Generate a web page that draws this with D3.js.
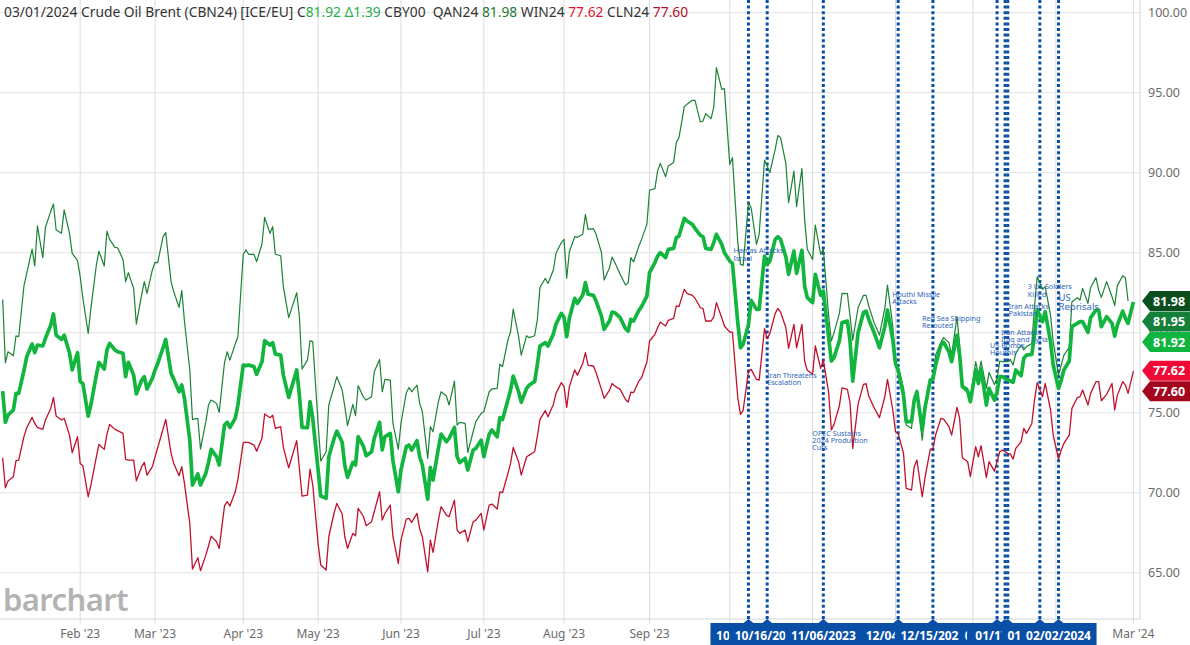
<!DOCTYPE html>
<html>
<head>
<meta charset="utf-8">
<script src="https://cdn.jsdelivr.net/npm/d3@7"></script>
<style>
  html, body { margin: 0; padding: 0; background: #fff; }
  svg { display: block; font-family: "Noto Sans", sans-serif; }
</style>
</head>
<body>
<div id="chart"></div>
<script>
// daily closes (thin green = QAN24, thick green = CBN24, red = CLN24)
const dates = [
  "2023-01-03","2023-01-04","2023-01-05","2023-01-07","2023-01-08","2023-01-09","2023-01-11","2023-01-12","2023-01-14","2023-01-15",
  "2023-01-16","2023-01-18","2023-01-19","2023-01-21","2023-01-22","2023-01-23","2023-01-25","2023-01-26","2023-01-28","2023-01-29",
  "2023-01-31","2023-02-01","2023-02-02","2023-02-04","2023-02-05","2023-02-07","2023-02-08","2023-02-10","2023-02-11","2023-02-12",
  "2023-02-14","2023-02-15","2023-02-17","2023-02-18","2023-02-19","2023-02-21","2023-02-22","2023-02-24","2023-02-25","2023-02-26",
  "2023-02-28","2023-03-01","2023-03-02","2023-03-04","2023-03-05","2023-03-07","2023-03-08","2023-03-10","2023-03-11","2023-03-12",
  "2023-03-14","2023-03-15","2023-03-17","2023-03-18","2023-03-20","2023-03-21","2023-03-22","2023-03-24","2023-03-25","2023-03-27",
  "2023-03-28","2023-03-29","2023-03-31","2023-04-01","2023-04-03","2023-04-04","2023-04-05","2023-04-07","2023-04-08","2023-04-10",
  "2023-04-11","2023-04-13","2023-04-14","2023-04-15","2023-04-17","2023-04-18","2023-04-20","2023-04-23","2023-04-24","2023-04-25",
  "2023-04-27","2023-04-28","2023-04-29","2023-05-01","2023-05-02","2023-05-04","2023-05-05","2023-05-07","2023-05-08","2023-05-10",
  "2023-05-11","2023-05-12","2023-05-14","2023-05-15","2023-05-16","2023-05-18","2023-05-19","2023-05-21","2023-05-22","2023-05-24",
  "2023-05-25","2023-05-26","2023-05-28","2023-05-29","2023-05-31","2023-06-01","2023-06-03","2023-06-04","2023-06-05","2023-06-07",
  "2023-06-08","2023-06-09","2023-06-11","2023-06-12","2023-06-13","2023-06-15","2023-06-16","2023-06-18","2023-06-19","2023-06-21",
  "2023-06-22","2023-06-23","2023-06-25","2023-06-26","2023-06-28","2023-06-29","2023-07-01","2023-07-02","2023-07-04","2023-07-05",
  "2023-07-07","2023-07-08","2023-07-09","2023-07-11","2023-07-12","2023-07-13","2023-07-15","2023-07-16","2023-07-18","2023-07-19",
  "2023-07-21","2023-07-22","2023-07-23","2023-07-25","2023-07-26","2023-07-28","2023-07-29","2023-07-31","2023-08-01","2023-08-02",
  "2023-08-03","2023-08-05","2023-08-06","2023-08-08","2023-08-09","2023-08-10","2023-08-12","2023-08-13","2023-08-15","2023-08-16",
  "2023-08-18","2023-08-19","2023-08-20","2023-08-22","2023-08-24","2023-08-25","2023-08-26","2023-08-27","2023-08-29","2023-08-30",
  "2023-09-01","2023-09-02","2023-09-04","2023-09-05","2023-09-06","2023-09-08","2023-09-09","2023-09-11","2023-09-12","2023-09-13",
  "2023-09-15","2023-09-16","2023-09-18","2023-09-19","2023-09-21","2023-09-22","2023-09-23","2023-09-25","2023-09-26","2023-09-27",
  "2023-09-29","2023-09-30","2023-10-02","2023-10-03","2023-10-05","2023-10-06","2023-10-07","2023-10-09","2023-10-10","2023-10-12",
  "2023-10-13","2023-10-15","2023-10-16","2023-10-17","2023-10-19","2023-10-20","2023-10-21","2023-10-23","2023-10-24","2023-10-26",
  "2023-10-27","2023-10-29","2023-10-30","2023-10-31","2023-11-02","2023-11-03","2023-11-05","2023-11-06","2023-11-08","2023-11-09",
  "2023-11-10","2023-11-12","2023-11-13","2023-11-15","2023-11-16","2023-11-17","2023-11-19","2023-11-21","2023-11-22","2023-11-23",
  "2023-11-25","2023-11-27","2023-11-29","2023-11-30","2023-12-02","2023-12-03","2023-12-04","2023-12-06","2023-12-07","2023-12-09",
  "2023-12-10","2023-12-11","2023-12-13","2023-12-14","2023-12-16","2023-12-17","2023-12-18","2023-12-20","2023-12-21","2023-12-23",
  "2023-12-24","2023-12-26","2023-12-27","2023-12-28","2023-12-30","2023-12-31","2024-01-02","2024-01-03","2024-01-04","2024-01-06",
  "2024-01-07","2024-01-09","2024-01-10","2024-01-11","2024-01-12","2024-01-14","2024-01-15","2024-01-16","2024-01-17","2024-01-19",
  "2024-01-20","2024-01-21","2024-01-23","2024-01-24","2024-01-25","2024-01-27","2024-01-28","2024-01-30","2024-01-31","2024-02-02",
  "2024-02-03","2024-02-04","2024-02-06","2024-02-07","2024-02-09","2024-02-10","2024-02-11","2024-02-13","2024-02-14","2024-02-16",
  "2024-02-17","2024-02-18","2024-02-20","2024-02-22","2024-02-23","2024-02-24","2024-02-26","2024-02-27","2024-02-28","2024-03-01"
];
const qan24 = [
  82.08,78.12,78.81,78.56,79.81,79.75,82.98,83.71,85.23,84.17,
  86.67,84.69,86.58,87.60,88.04,86.42,86.21,87.67,86.21,84.96,
  84.50,83.50,82.15,79.96,81.52,84.17,85.10,84.17,86.35,85.83,
  85.33,85.31,84.58,83.19,83.75,82.77,80.54,82.40,83.19,82.46,
  83.92,84.40,84.38,86.00,86.25,83.19,82.56,81.58,82.63,80.73,
  77.67,74.58,74.65,72.73,74.44,75.48,75.79,75.58,75.02,78.15,
  78.81,78.29,79.29,79.75,84.90,85.17,84.90,84.90,84.44,85.54,
  87.21,86.21,86.63,84.90,84.81,82.88,80.94,82.50,81.00,77.73,
  78.29,79.50,79.44,74.33,71.98,72.56,75.48,76.63,77.25,76.42,
  75.38,74.19,75.52,74.81,76.69,75.96,75.79,76.00,77.56,78.33,
  76.31,77.08,77.04,74.33,72.71,74.33,76.25,76.58,76.31,76.73,
  75.58,75.06,72.15,74.13,73.81,75.69,76.31,76.04,75.48,76.98,
  74.23,74.40,74.33,72.52,73.81,74.44,74.96,75.06,76.31,76.48,
  76.52,78.04,77.88,79.54,80.06,81.48,79.75,78.60,79.81,79.69,
  79.81,80.79,82.83,83.40,83.08,83.92,84.96,85.63,85.83,83.40,
  85.06,86.00,85.96,86.15,87.40,86.46,86.50,86.15,85.00,83.29,
  84.06,84.73,84.38,83.65,82.98,83.13,84.69,84.42,85.42,85.83,
  86.77,88.90,89.00,90.10,90.58,89.75,90.42,90.63,91.88,92.19,
  94.13,94.27,94.52,94.52,93.17,93.23,93.69,93.38,94.06,96.56,
  95.21,95.25,90.52,90.94,85.63,84.27,84.21,88.13,87.81,85.52,
  86.15,90.79,90.42,90.00,91.46,92.33,92.19,90.56,88.13,90.10,
  87.88,90.25,87.08,85.21,84.58,86.73,84.90,85.21,81.04,79.48,
  80.00,81.19,82.46,82.44,81.04,79.54,81.56,82.33,82.33,81.67,
  80.63,79.85,81.52,82.98,80.38,78.19,77.88,76.52,74.23,74.02,
  75.73,76.42,73.29,75.06,77.04,77.10,78.60,79.40,79.69,79.38,
  78.60,81.00,79.23,76.73,76.52,75.79,78.19,77.35,78.23,76.52,
  77.52,76.77,77.15,78.23,78.19,78.19,78.33,77.98,78.71,79.23,
  78.92,79.13,79.33,81.63,83.50,82.71,82.88,81.10,79.44,77.35,
  77.98,78.60,79.08,81.94,82.19,82.04,82.77,81.83,82.83,83.44,
  82.67,82.21,83.19,82.25,81.69,82.94,83.56,83.44,81.98,null
];
const cbn24 = [
  76.35,74.40,74.85,75.17,76.21,76.21,77.67,78.50,79.29,78.75,
  79.23,79.17,79.65,80.48,81.17,79.85,79.58,79.85,78.75,77.67,
  78.75,76.94,76.83,74.79,75.48,77.31,78.15,77.73,78.92,79.33,
  78.92,78.81,78.71,77.25,78.15,77.35,76.17,77.04,77.25,76.48,
  77.15,77.67,78.08,79.06,79.58,77.46,77.10,76.31,76.73,75.90,
  73.29,70.48,71.17,70.48,71.21,71.90,72.71,72.25,71.73,74.23,
  74.40,74.08,74.65,75.48,77.98,77.94,77.98,77.88,77.40,78.19,
  79.50,79.23,79.38,78.67,78.60,77.35,75.96,77.67,76.10,74.08,
  74.06,75.69,74.65,71.42,69.79,69.65,72.25,73.40,73.85,73.15,
  71.69,70.96,71.90,71.73,73.50,72.88,72.31,72.56,73.40,74.40,
  72.67,73.50,73.71,72.00,70.06,71.42,72.88,72.98,72.67,73.25,
  72.25,71.73,69.60,71.58,70.79,72.77,73.67,73.19,73.40,74.08,
  72.25,71.88,72.15,71.42,72.67,72.77,73.29,72.25,73.65,73.92,
  73.50,74.69,74.58,75.79,76.42,77.29,76.31,75.65,76.52,76.73,
  76.94,77.98,79.17,79.38,79.17,79.92,80.54,81.21,80.96,79.75,
  80.90,82.15,81.83,82.35,83.13,82.40,82.33,81.98,81.04,80.21,
  80.73,81.29,81.25,80.94,80.25,80.10,80.83,80.73,81.40,81.63,
  82.29,83.75,84.38,84.79,85.00,84.69,85.21,85.27,85.94,86.04,
  87.15,86.98,86.77,86.52,86.08,86.00,85.27,85.21,85.63,86.15,
  85.52,85.00,84.48,84.33,80.63,79.06,79.27,80.52,82.02,81.46,
  81.46,84.79,84.27,84.48,85.83,86.00,85.83,84.73,83.65,85.10,
  83.71,85.15,82.92,82.19,81.88,83.65,82.33,82.60,79.69,78.23,
  78.44,79.48,80.63,80.73,79.48,76.98,80.00,81.25,81.35,80.83,
  80.00,79.06,80.38,81.42,79.54,78.08,77.67,76.10,74.44,74.44,
  75.79,76.31,73.92,75.27,77.04,77.10,77.98,79.23,79.40,78.81,
  78.19,79.85,78.60,76.63,76.35,75.69,77.67,76.83,77.77,75.48,
  76.52,75.79,76.31,77.25,77.25,77.04,76.98,76.90,77.67,77.31,
  78.40,78.60,78.65,79.85,81.42,80.69,81.31,79.44,77.98,76.52,
  77.04,77.67,78.23,80.38,80.58,80.69,80.69,80.02,80.94,81.42,
  81.42,80.38,81.00,80.58,79.79,80.48,81.35,80.90,80.58,81.92
];
const cln24 = [
  72.19,70.31,70.73,71.00,72.00,72.04,73.54,74.06,74.71,74.33,
  74.08,73.96,74.54,75.27,75.96,74.79,74.54,74.65,73.60,72.50,
  73.50,71.83,71.69,69.75,70.48,72.19,73.02,72.71,73.65,74.27,
  73.96,73.88,73.71,72.08,72.04,72.04,70.75,71.63,71.90,71.10,
  71.63,72.25,72.81,73.98,74.58,72.46,71.83,71.06,71.63,70.58,
  68.08,65.23,65.94,65.13,66.10,66.67,67.29,66.94,66.52,69.19,
  69.44,69.17,70.06,70.83,73.15,73.15,73.15,72.98,72.60,73.40,
  74.92,74.69,74.85,74.02,74.13,72.83,71.56,73.25,71.52,69.79,
  69.85,71.48,70.48,66.83,65.48,65.17,67.25,68.75,69.33,68.67,
  67.25,66.52,67.46,67.31,69.02,68.50,67.94,68.19,68.81,70.06,
  68.29,68.71,69.23,67.25,65.58,67.04,68.35,68.40,68.15,68.71,
  67.73,67.25,65.06,67.04,66.27,68.29,69.13,68.60,68.50,69.54,
  67.67,67.46,67.67,66.94,68.19,68.29,68.71,67.67,69.23,69.29,
  68.98,70.06,70.00,71.21,71.83,72.83,71.94,71.10,72.25,72.35,
  72.56,73.50,74.58,75.13,74.75,75.52,76.21,76.88,76.63,75.33,
  76.63,77.67,77.35,78.08,78.75,77.96,77.92,77.50,76.46,75.90,
  76.40,76.83,76.67,76.46,75.83,75.67,76.29,76.25,76.98,77.19,
  78.17,79.48,79.90,80.31,80.67,80.42,80.77,80.90,81.67,81.63,
  82.71,82.46,82.33,82.15,81.56,81.50,80.73,80.73,80.98,81.88,
  80.94,80.42,80.04,80.04,75.94,74.90,75.15,77.60,77.71,77.08,
  77.04,80.25,79.63,79.94,81.21,81.52,81.29,80.31,79.02,80.52,
  79.06,80.52,78.23,77.65,77.40,79.17,77.77,78.29,76.25,73.92,
  74.27,75.42,76.56,76.46,75.63,72.77,75.52,76.77,76.81,76.04,
  75.31,74.69,76.00,77.08,75.17,73.81,73.71,72.46,70.27,70.17,
  71.63,72.04,69.75,70.90,72.71,72.77,73.60,74.65,74.60,74.13,
  73.60,75.33,74.65,72.19,71.94,71.00,72.88,72.25,72.94,70.94,
  71.94,71.35,71.94,72.56,72.67,72.46,72.42,72.10,72.77,73.19,
  74.02,73.71,74.33,75.79,76.88,76.00,76.83,75.17,73.60,72.10,
  72.67,73.08,73.60,75.27,75.94,76.00,76.42,75.48,76.21,76.94,
  76.94,75.75,76.15,76.83,75.17,76.10,76.94,76.73,76.21,77.60
];

// last quotes shown in the header and in the right-hand tags
const quoteSymbols = ["QAN24", "CBY00", "CBN24", "WIN24", "CLN24"];
const quoteValues = [81.98, 81.95, 81.92, 77.62, 77.60];
const quoteColors = ["#0c4f1e", "#15803a", "#10b540", "#ee0a34", "#a4061d"];

// event flags (date of the line, flag text, note text)
const eventDates = ["2023-10-09","2023-10-16","2023-11-06","2023-12-04","2023-12-17",
                    "2024-01-10","2024-01-13","2024-01-14","2024-01-26","2024-02-02"];
const eventFlags = ["10/09/2023","10/16/2023","11/06/2023","12/04/2023","12/15/2023",
                    "01/11/2024","01/16/2024","01/17/2024","01/29/2024","02/02/2024"];
const eventNotes = [
  ["Hamas Attacks", "Israel"],
  ["Iran Threatens", "Escalation"],
  ["OPEC Sustains", "2024 Production", "Cuts"],
  ["Houthi Missile", "Attacks"],
  ["Red Sea Shipping", "Rerouted"],
  ["US Bombs", "Houthis"],
  ["Iran Attacks", "Iraq and Syria"],
  ["Iran Attacks", "Pakistan"],
  ["3 US Soldiers", "Killed"],
  ["US", "Reprisals"]
];
// where each note sits: pixel shift from its line, price level of first line
const noteLayout = [[-15, 84.95], [0, 77.17], [-11, 73.54], [-6, 82.23], [-11, 80.73],
                    [-7, 79.04], [-4, 79.86], [1, 81.48], [-12, 82.70], [0, 81.95]];

const monthTicks = ["2023-02-01","2023-03-01","2023-04-03","2023-05-01","2023-06-01","2023-07-02",
                    "2023-08-01","2023-09-02","2023-10-02","2023-11-02","2023-12-03","2024-01-01",
                    "2024-02-01","2024-03-01"];
const priceTicks = [65, 70, 75, 80, 85, 90, 95, 100];

const width = 1190;
const height = 645;
const plotRight = 1140;
const plotBottom = 619;

const parse = d3.timeParse("%Y-%m-%d");
const days = dates.map(parse);

let x = d3.scaleTime()
    .domain([parse("2023-01-02"), parse("2024-03-01")])
    .range([0, 1133.4]);
let y = d3.scaleLinear()
    .domain([62.11, 100.79])
    .range([plotBottom, 0]);

let svg = d3.select("#chart").append("svg")
    .attr("width", width)
    .attr("height", height);

svg.append("rect").attr("width", width).attr("height", height).attr("fill", "#fff");

svg.append("defs").append("clipPath").attr("id", "plot")
    .append("rect").attr("width", plotRight).attr("height", plotBottom);

// grid
let grid = svg.append("g");
grid.selectAll("line.h").data(priceTicks).enter().append("line")
    .attr("x1", 0).attr("x2", plotRight)
    .attr("y1", d => y(d)).attr("y2", d => y(d))
    .attr("stroke", "#e3e3e3");
grid.selectAll("line.v").data(monthTicks.map(parse)).enter().append("line")
    .attr("x1", d => x(d)).attr("x2", d => x(d))
    .attr("y1", 0).attr("y2", plotBottom + 5)
    .attr("stroke", "#dcdcdc");
grid.append("line").attr("x1", plotRight).attr("x2", plotRight)
    .attr("y1", 0).attr("y2", plotBottom).attr("stroke", "#d6d6d6");
grid.append("line").attr("x1", 0).attr("x2", plotRight)
    .attr("y1", plotBottom).attr("y2", plotBottom).attr("stroke", "#d6d6d6");

// watermark
svg.append("text")
    .attr("x", 3).attr("y", 611)
    .attr("font-size", 31).attr("font-weight", 600)
    .attr("letter-spacing", -0.6)
    .attr("fill", "#b3b3b3")
    .text("barchart");

// right price axis
svg.append("g").selectAll("text").data(priceTicks).enter().append("text")
    .attr("x", 1148).attr("y", d => y(d) + 4.5)
    .attr("font-size", 12.5).attr("fill", "#6b6b6b")
    .text(d => d3.format(".2f")(d));

// event lines (dotted)
let events = eventDates.map((d, i) => ({date: parse(d), flag: eventFlags[i], note: eventNotes[i], lay: noteLayout[i]}));
svg.append("g").selectAll("line").data(events).enter().append("line")
    .attr("x1", d => x(d.date)).attr("x2", d => x(d.date))
    .attr("y1", 0).attr("y2", plotBottom + 1)
    .attr("stroke", "#0a4fa6").attr("stroke-width", 3)
    .attr("stroke-dasharray", "3,2.6");

// price lines
let lines = svg.append("g").attr("clip-path", "url(#plot)");
function drawSeries(values, color, w) {
    let line = d3.line()
        .defined((d, i) => values[i] != null)
        .x((d, i) => x(days[i]))
        .y((d, i) => y(values[i]));
    lines.append("path")
        .datum(values)
        .attr("d", line)
        .attr("fill", "none")
        .attr("stroke", color)
        .attr("stroke-width", w)
        .attr("stroke-linejoin", "round");
}
drawSeries(cln24, "#c0112c", 1.3);
drawSeries(qan24, "#1b8236", 1.2);
drawSeries(cbn24, "#12b53e", 3.7);

// notes
let notes = svg.append("g").attr("fill", "#2f66b8");
events.forEach(ev => {
    let big = ev.note[0] === "US";
    let fs = big ? 9.5 : 7.2;
    let lh = big ? 8.5 : 7.2;
    let t = notes.append("text")
        .attr("x", x(ev.date) + ev.lay[0])
        .attr("y", y(ev.lay[1]))
        .attr("font-size", fs);
    ev.note.forEach((s, k) => {
        t.append("tspan").attr("x", x(ev.date) + ev.lay[0]).attr("dy", k ? lh : 0).text(s);
    });
});

// month labels
svg.append("g").selectAll("text").data(monthTicks.map(parse)).enter().append("text")
    .attr("x", d => x(d)).attr("y", 638)
    .attr("text-anchor", "middle")
    .attr("font-size", 12).attr("fill", "#6b6b6b")
    .text(d3.timeFormat("%b '%y"));

// flags on the time axis, later ones on top
let flags = svg.append("g");
events.forEach(ev => {
    let cx = x(ev.date);
    flags.append("path")
        .attr("d", `M${cx - 5.5},623.5 L${cx},619 L${cx + 5.5},623.5 Z`)
        .attr("fill", "#0a4fa6");
    flags.append("rect")
        .attr("x", cx - 38).attr("y", 623)
        .attr("width", 76).attr("height", 22)
        .attr("fill", "#0a4fa6");
    flags.append("text")
        .attr("x", cx).attr("y", 639.5)
        .attr("text-anchor", "middle")
        .attr("font-size", 12).attr("font-weight", 700)
        .attr("fill", "#fff")
        .text(ev.flag);
});

// last value tags, stacked so they don't overlap
let tagY = [];
quoteValues.forEach((v, i) => {
    let cy = y(v);
    if (i > 0 && cy < tagY[i - 1] + 20.5) cy = tagY[i - 1] + 20.5;
    tagY.push(cy);
});
let tags = svg.append("g");
quoteValues.forEach((v, i) => {
    let cy = tagY[i];
    tags.append("path")
        .attr("d", `M1142,${cy} L1150,${cy - 10} L1190,${cy - 10} L1190,${cy + 10} L1150,${cy + 10} Z`)
        .attr("fill", quoteColors[i]);
    tags.append("text")
        .attr("x", 1153).attr("y", cy + 4.5)
        .attr("font-size", 12.5).attr("font-weight", 700)
        .attr("fill", "#fff")
        .text(d3.format(".2f")(v));
});

// header
let head = svg.append("text")
    .attr("x", 4).attr("y", 17)
    .attr("font-size", 13.8).attr("fill", "#333")
    .attr("xml:space", "preserve");
head.append("tspan").text("03/01/2024 Crude Oil Brent (CBN24) [ICE/EU] C");
head.append("tspan").attr("fill", "#1fb04a").text(d3.format(".2f")(quoteValues[2]) + " \u03941.39");
head.append("tspan").text(" " + quoteSymbols[1] + "  " + quoteSymbols[0] + " ");
head.append("tspan").attr("fill", "#1d7a35").text(d3.format(".2f")(quoteValues[0]));
head.append("tspan").text(" " + quoteSymbols[3] + " ");
head.append("tspan").attr("fill", "#e3132f").text(d3.format(".2f")(quoteValues[3]));
head.append("tspan").text(" " + quoteSymbols[4] + " ");
head.append("tspan").attr("fill", "#b0102a").text(d3.format(".2f")(quoteValues[4]));
</script>
</body>
</html>
